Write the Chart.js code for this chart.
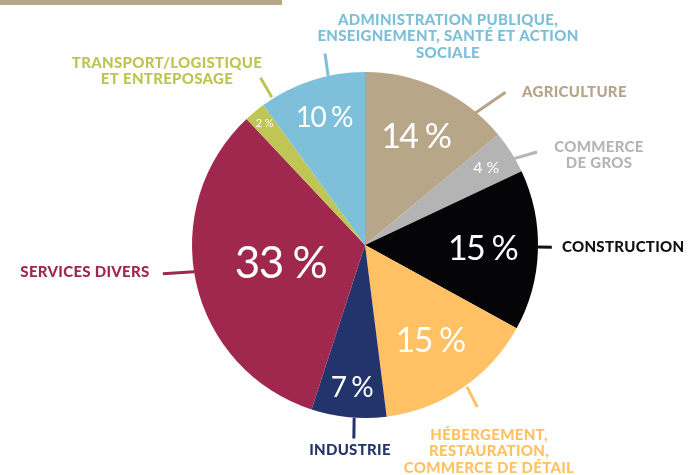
<!DOCTYPE html>
<html>
<head>
<meta charset="utf-8">
<script src="https://cdn.jsdelivr.net/npm/chart.js@4"></script>
<style>
  html, body { margin: 0; padding: 0; background: #fff; }
  #wrap { position: relative; width: 689px; height: 475px; }
  #bar { position: absolute; left: 0; top: 0; width: 282px; height: 5px; background: #b8a688; }
</style>
</head>
<body>
<div id="wrap">
  <div id="bar"></div>
  <canvas id="myChart" width="689" height="475"></canvas>
</div>
<script>
// secteurs, dans l'ordre horaire depuis le haut
var secteurs = [
  ["AGRICULTURE"],
  ["COMMERCE", "DE GROS"],
  ["CONSTRUCTION"],
  ["HÉBERGEMENT,", "RESTAURATION,", "COMMERCE DE DÉTAIL"],
  ["INDUSTRIE"],
  ["SERVICES DIVERS"],
  ["TRANSPORT/LOGISTIQUE", "ET ENTREPOSAGE"],
  ["ADMINISTRATION PUBLIQUE,", "ENSEIGNEMENT, SANTÉ ET ACTION", "SOCIALE"]
];
var parts = [14, 4, 15, 15, 7, 33, 2, 10];

var couleurs = ['#b8a688', '#b3b4b3', '#050508', '#ffc163', '#23336b', '#a0284f', '#bfc655', '#7ec0da'];
var couleursTexte = ['#b5a487', '#b4b5b4', '#111111', '#ffc163', '#24336b', '#a0284f', '#bdc552', '#7dbfd9'];

// placement des pourcentages (fraction du rayon, taille de police)
var pctRayon = [0.69, 0.83, 0.68, 0.67, 0.83, 0.50, 0.91, 0.77];
var pctTaille = [34, 16, 34, 34, 28, 44, 11, 28];

// traits de rappel : [angle1, r1, angle2, r2] (degrés depuis le haut, fraction du rayon)
var traits = [
  [39.8, 0.99, 42.6, 1.20],
  [59.8, 0.99, 61.6, 1.13],
  [90.7, 1.00, 90.7, 1.08],
  [144.3, 1.01, 145.3, 1.14],
  [183.6, 1.00, 183.3, 1.12],
  [261.9, 1.18, 261.1, 1.00],
  [327.8, 1.01, 328.0, 1.14],
  [347.7, 1.00, 348.2, 1.13]
];
// position des étiquettes par rapport au centre : [dx, dy première ligne, alignement]
var etiquettes = [
  [157, -153, 'left'],
  [234, -98, 'center'],
  [197, 2, 'left'],
  [124, 190, 'center'],
  [-15, 205, 'center'],
  [-280, 27, 'center'],
  [-198, -182, 'center'],
  [83, -225, 'center']
];

var etiquettesPlugin = {
  id: 'etiquettes',
  afterDatasetsDraw: function(chart) {
    var ctx = chart.ctx;
    var arcs = chart.getDatasetMeta(0).data;
    var cx = arcs[0].x, cy = arcs[0].y, r = arcs[0].outerRadius;
    ctx.save();
    ctx.textBaseline = 'middle';

    // pourcentages
    ctx.fillStyle = '#fff';
    ctx.textAlign = 'center';
    arcs.forEach(function(arc, i) {
      var mid = (arc.startAngle + arc.endAngle) / 2;
      var d = r * pctRayon[i];
      ctx.font = pctTaille[i] + 'px Lato';
      ctx.letterSpacing = pctTaille[i] >= 28 ? '-1.5px' : '0px';
      ctx.fillText(parts[i] + ' %', cx + Math.cos(mid) * d, cy + Math.sin(mid) * d);
    });

    // traits
    ctx.lineWidth = 3;
    traits.forEach(function(t, i) {
      var a1 = (t[0] - 90) * Math.PI / 180, a2 = (t[2] - 90) * Math.PI / 180;
      ctx.strokeStyle = couleursTexte[i];
      ctx.beginPath();
      ctx.moveTo(cx + Math.cos(a1) * r * t[1], cy + Math.sin(a1) * r * t[1]);
      ctx.lineTo(cx + Math.cos(a2) * r * t[3], cy + Math.sin(a2) * r * t[3]);
      ctx.stroke();
    });

    // étiquettes
    ctx.font = '900 15px Lato';
    ctx.letterSpacing = '0.3px';
    etiquettes.forEach(function(e, i) {
      ctx.fillStyle = couleursTexte[i];
      ctx.textAlign = e[2];
      secteurs[i].forEach(function(ligne, k) {
        ctx.fillText(ligne, cx + e[0], cy + e[1] + k * 16.5);
      });
    });
    ctx.restore();
  }
};

var ctx = document.getElementById("myChart");
var camembert = new Chart(ctx, {
  type: 'pie',
  data: {
    labels: secteurs.map(function(s) { return s.join(' '); }),
    datasets: [{
      data: parts,
      backgroundColor: couleurs,
      borderWidth: 0
    }]
  },
  options: {
    responsive: false,
    animation: false,
    layout: { padding: { left: 192, right: 151, top: 72, bottom: 57 } },
    plugins: {
      legend: { display: false },
      tooltip: { enabled: false }
    }
  },
  plugins: [etiquettesPlugin]
});
</script>
</body>
</html>
